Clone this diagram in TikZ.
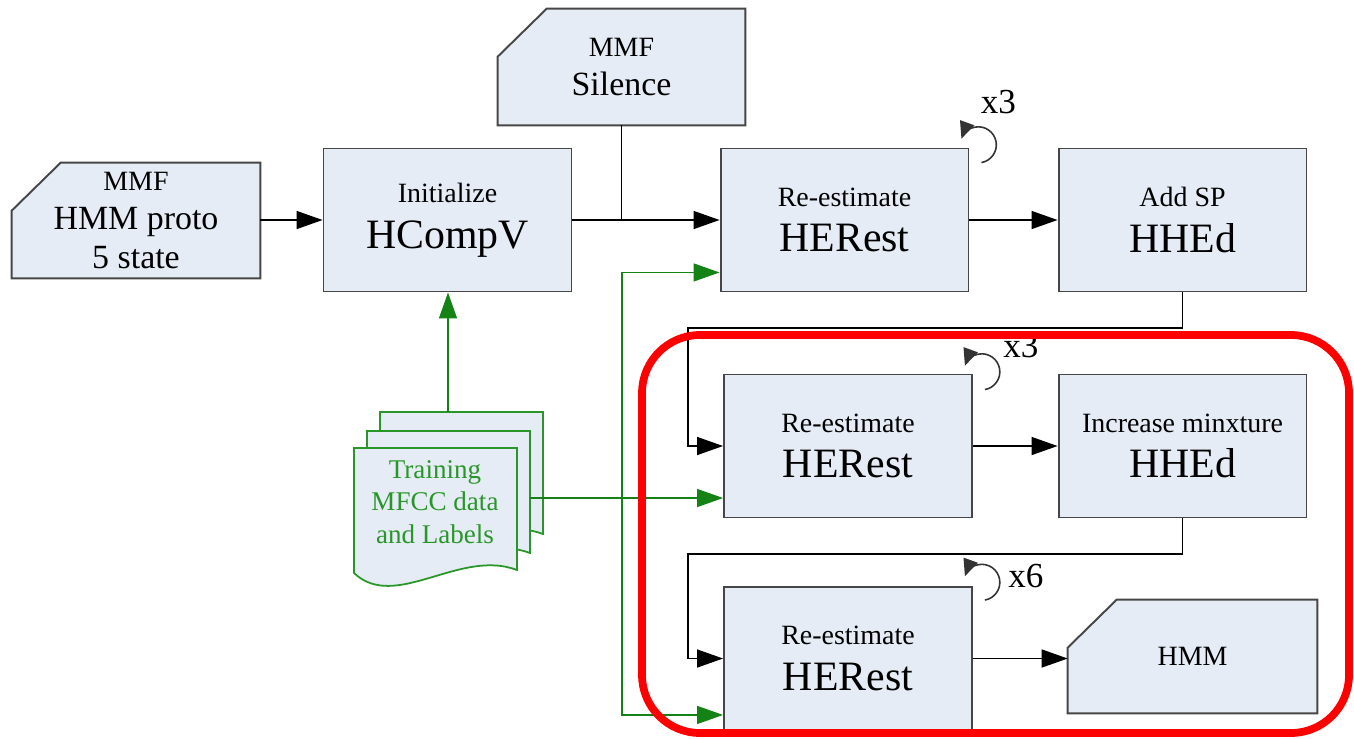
\documentclass[tikz,border=0pt]{standalone}
\usepackage{fontspec}
\setmainfont{Liberation Serif}
\usetikzlibrary{arrows.meta,calc,backgrounds}

\definecolor{boxfill}{RGB}{230,236,246}
\definecolor{boxline}{RGB}{70,70,70}
\definecolor{dgreen}{RGB}{20,130,20}
\definecolor{tgreen}{RGB}{40,150,40}

\newcommand{\capfont}{\fontsize{15.9pt}{18pt}\selectfont}
\newcommand{\toolfont}{\fontsize{23.8pt}{26pt}\selectfont}
\newcommand{\cardfont}{\fontsize{19.3pt}{22pt}\selectfont}
\newcommand{\timesfont}{\fontsize{20pt}{24pt}\selectfont}

% card with a cut top left corner
\newcommand{\cardoutline}[1]{%
  \filldraw[cardline] (#1.south west) -- ($(#1.north west)+(0,48)$) -- ($(#1.north west)+(49,0)$)
    -- (#1.north east) -- (#1.south east) -- cycle;}

\begin{document}
\begin{tikzpicture}[x=0.02cm, y=-0.02cm,
  tool/.style={draw=boxline, fill=boxfill, line width=1.1pt, minimum width=4.96cm,
    minimum height=2.86cm, align=center, inner sep=0pt, font=\toolfont},
  card/.style={align=center, inner sep=0pt, font=\cardfont},
  cardline/.style={draw=boxline, fill=boxfill, line width=1.1pt},
  sheet/.style={draw=tgreen, fill=boxfill, line width=1pt},
  arr/.style={-{Triangle[length=0.52cm,width=0.36cm]}, line width=0.8pt},
  garr/.style={arr, color=dgreen},
  reloop/.style={-{Triangle[length=0.34cm,width=0.3cm]}, line width=0.9pt, color=black!80},
  times/.style={font=\timesfont, anchor=base}]

  \useasboundingbox (0,0) rectangle (1354,738);

  % Input cards
  \node[card, minimum width=4.96cm, minimum height=2.3cm] (proto) at (136,220.5)
    {{\capfont MMF}\\HMM proto\\5 state};
  \node[card, minimum width=4.94cm, minimum height=2.32cm] (silence) at (621.5,67)
    {{\capfont MMF}\\Silence};
  \node[card, minimum width=4.98cm, minimum height=2.26cm, font=\capfont] (hmm) at (1192.5,656.5) {HMM};
  \begin{scope}[on background layer]
    \cardoutline{proto}
    \cardoutline{silence}
    \cardoutline{hmm}
  \end{scope}

  % Tool boxes
  \node[tool] (hcompv) at (447.5,220) {{\capfont Initialize}\\HCompV};
  \node[tool] (herest1) at (844.5,220) {{\capfont Re-estimate}\\HERest};
  \node[tool] (addsp) at (1182.5,220) {{\capfont Add SP}\\HHEd};
  \node[tool] (herest2) at (848,446) {{\capfont Re-estimate}\\HERest};
  \node[tool] (incmix) at (1182.5,446) {{\capfont Increase minxture}\\HHEd};
  \node[tool] (herest3) at (848,658.5) {{\capfont Re-estimate}\\HERest};

  % Training data stack
  \foreach \dx/\dy in {26/-36,13/-17,0/0}
    \filldraw[sheet, shift={(\dx,\dy)}] (354,448) -- (517,448) -- (517,570)
      .. controls (460,548) and (395,612) .. (354,573) -- cycle;
  \node[align=center, text=tgreen, font={\fontsize{15.4pt}{18.4pt}\selectfont}] (train) at (435,502)
    {Training\\MFCC data\\and Labels};
  \coordinate (stacktop) at (448,412);
  \coordinate (stackR) at (530,498);
  \coordinate (gbus) at (622,498);

  % Main flow
  \draw[arr] (proto.east |- hcompv.west) -- (hcompv.west);
  \draw[arr] (hcompv.east) -- (herest1.west);
  \draw[line width=0.8pt] (silence.south) -- (silence.south |- hcompv.east);
  \draw[arr] (herest1.east) -- (addsp.west);
  \coordinate (bend1) at (688,328);
  \draw[arr] (addsp.south) |- (bend1) |- (herest2.west);
  \draw[arr] (herest2.east) -- (incmix.west);
  \coordinate (bend2) at (688,554);
  \draw[arr] (incmix.south) |- (bend2) |- (herest3.west);
  \draw[arr] (herest3.east) -- (herest3.east -| hmm.west);

  % Training data lines
  \draw[garr] (stacktop) -- (stacktop |- hcompv.south);
  \draw[garr] (stackR) -- (stackR -| herest2.west);
  \draw[garr] (gbus) |- ($(herest1.south west)+(0,-20)$);
  \draw[garr] (gbus) |- ($(herest3.south west)+(0,-16)$);

  % Repeats
  \draw[reloop] ([shift={(12,15)}]herest1.north east) arc[start angle=80, end angle=-160, radius=18];
  \draw[reloop] ([shift={(12,16)}]herest2.north east) arc[start angle=80, end angle=-160, radius=18];
  \draw[reloop] ([shift={(12,14)}]herest3.north east) arc[start angle=80, end angle=-160, radius=18];
  \node[times] (rep1) at ($(herest1.north east)+(29,-34)$) {x3};
  \node[times] (rep2) at ($(herest2.north east)+(48,-16)$) {x3};
  \node[times] (rep3) at ($(herest3.north east)+(53,1)$) {x6};

  % Highlight
  \draw[red, line width=4.4pt, rounded corners=1.16cm] (642,335) rectangle (1349,733);

\end{tikzpicture}
\end{document}
